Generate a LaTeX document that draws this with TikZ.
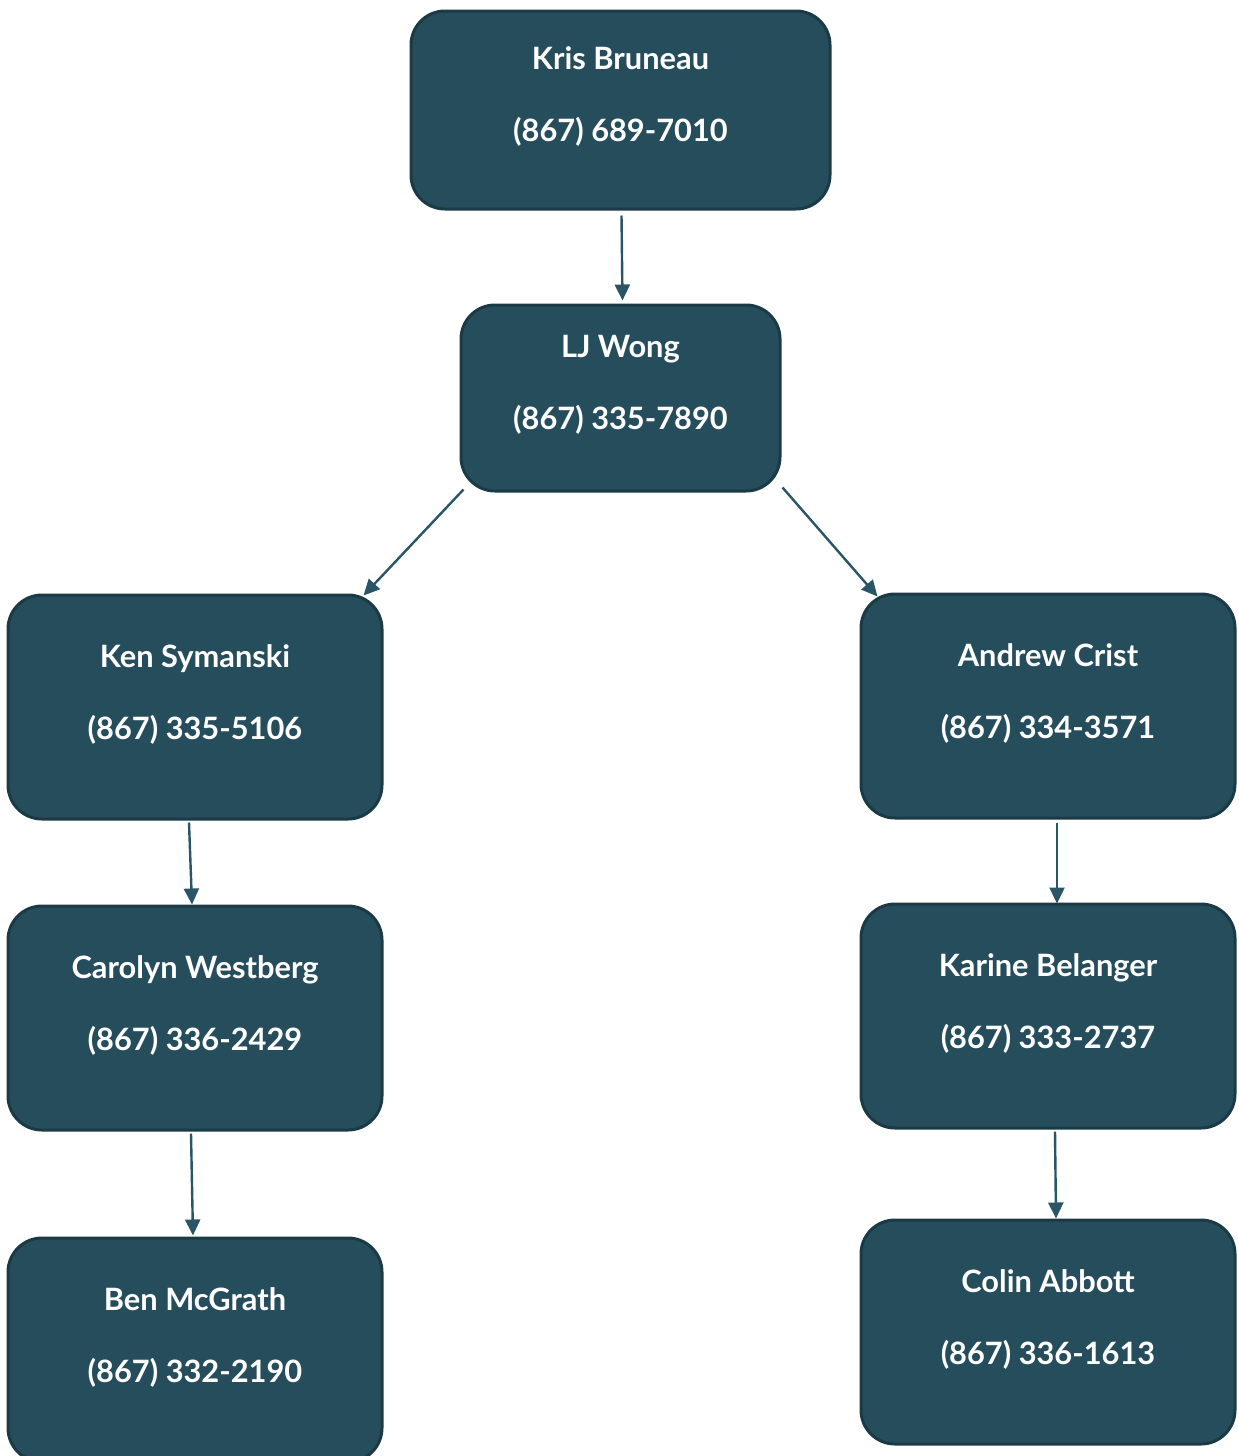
\documentclass[tikz,border=0pt]{standalone}
\usepackage{fontspec}
\setmainfont{Lato}
\usetikzlibrary{arrows.meta}
\definecolor{boxfill}{HTML}{264D5C}
\definecolor{boxline}{HTML}{1B3A46}
\definecolor{linkcol}{HTML}{2A5566}
\tikzset{
  person/.style={draw=boxline,fill=boxfill,line width=1.5pt,rounded corners=17pt,inner sep=0pt},
  who/.style={text=white,align=center,font=\bfseries\fontsize{15.4}{36}\selectfont},
  link/.style={draw=linkcol,line width=1.2pt,-{Triangle[length=8pt,width=7.5pt]}}
}

\begin{document}
\begin{tikzpicture}[x=0.5pt,y=-0.5pt]
\def\u{0.5pt}
\def\bw{374*\u}
\def\bh{224*\u}
\useasboundingbox (0,0) rectangle (1238,1456);

\node (A) at (620.5,110) [person,minimum width=419*\u,minimum height=198*\u] {};
\node (B) at (620.5,398) [person,minimum width=319*\u,minimum height=186*\u] {};
\node (C) at (195,707) [person,minimum width=\bw,minimum height=\bh] {};
\node (D) at (1048,706) [person,minimum width=\bw,minimum height=\bh] {};
\node (E) at (195,1018) [person,minimum width=\bw,minimum height=\bh] {};
\node (F) at (1048,1016) [person,minimum width=\bw,minimum height=\bh] {};
\node (G) at (195,1350) [person,minimum width=\bw,minimum height=\bh] {};
\node (H) at (1048,1332) [person,minimum width=\bw,minimum height=\bh] {};

\node[who] (A1) at (620.5,97) {Kris Bruneau\\(867) 689-7010};
\node[who] (B1) at (620.5,385) {LJ Wong\\(867) 335-7890};
\node[who] (C1) at (195,694) {Ken Symanski\\(867) 335-5106};
\node[who] (D1) at (1048,693) {Andrew Crist\\(867) 334-3571};
\node[who] (E1) at (195,1005) {Carolyn Westberg\\(867) 336-2429};
\node[who] (F1) at (1048,1003) {Karine Belanger\\(867) 333-2737};
\node[who] (G1) at (195,1337) {Ben McGrath\\(867) 332-2190};
\node[who] (H1) at (1048,1319) {Colin Abbott\\(867) 336-1613};

\draw[link] ([shift={(1,5)}]A.south) -- ([shift={(2,-3)}]B.north);
\draw[link] ([shift={(4,-3)}]B.south west) -- ([shift={(-20,2)}]C.north east);
\draw[link] ([shift={(1,-5)}]B.south east) -- ([shift={(18,4)}]D.north west);
\draw[link] ([shift={(-6,2)}]C.south) -- ([shift={(-3,0)}]E.north);
\draw[link] ([shift={(-4,2)}]E.south) -- ([shift={(-2,-1)}]G.north);
\draw[link] ([shift={(9,3)}]D.south) -- ([shift={(9,1)}]F.north);
\draw[link] ([shift={(7,2)}]F.south) -- ([shift={(8,0)}]H.north);

\end{tikzpicture}
\end{document}
